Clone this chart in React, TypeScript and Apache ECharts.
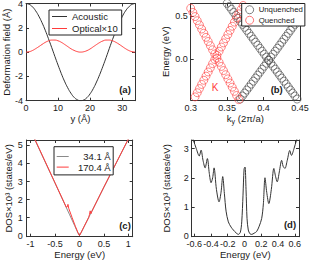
import { useEffect, useRef } from 'react';
import * as echarts from 'echarts';

const FONT = '"Liberation Sans", Arial, sans-serif';
const AX = '#333';
const TXT = '#1a1a1a';

// ---------- panel (a) ----------
const aY = [0, 1, 2, 3, 4, 5, 6, 7, 8, 9, 10, 11, 12, 13, 14, 15, 16, 17, 18, 19, 20, 21, 22, 23, 24, 25, 26, 27, 28, 29, 30, 31, 32, 33, 34];
const acoustic = [4.0, 3.93, 3.73, 3.4, 2.96, 2.42, 1.8, 1.11, 0.39, -0.35, -1.07, -1.76, -2.39, -2.93, -3.38, -3.72, -3.92, -4.0, -3.94, -3.75, -3.43, -3.0, -2.46, -1.84, -1.16, -0.44, 0.31, 1.04, 1.73, 2.36, 2.91, 3.37, 3.7, 3.92, 4.0];
const optical = [0, 0.03, 0.13, 0.28, 0.45, 0.63, 0.8, 0.92, 0.99, 0.99, 0.93, 0.81, 0.64, 0.46, 0.28, 0.14, 0.04, 0, 0.03, 0.12, 0.26, 0.44, 0.62, 0.79, 0.92, 0.99, 0.99, 0.93, 0.81, 0.65, 0.47, 0.29, 0.14, 0.04, 0];

// ---------- panel (b) ----------
const redKy = [0.300, 0.303, 0.306, 0.309, 0.312, 0.315, 0.318, 0.321, 0.324, 0.327, 0.330, 0.333, 0.336, 0.339, 0.342, 0.345, 0.348, 0.351, 0.354, 0.357, 0.360, 0.363, 0.366, 0.369, 0.372];
const redDesc = [0.590, 0.542, 0.494, 0.446, 0.398, 0.350, 0.302, 0.254, 0.206, 0.158, 0.110, 0.062, 0.014, -0.034, -0.082, -0.130, -0.178, -0.226, -0.274, -0.322, -0.370, -0.418, -0.466, -0.514, -0.562];
const redAsc = [-0.530, -0.482, -0.434, -0.386, -0.338, -0.290, -0.242, -0.194, -0.146, -0.098, -0.050, -0.002, 0.046, 0.094, 0.142, 0.190, 0.238, 0.286, 0.334, 0.382, 0.430, 0.478, 0.526, 0.574, 0.622];
const blackKy = [0.350, 0.353, 0.356, 0.359, 0.362, 0.365, 0.368, 0.371, 0.374, 0.377, 0.380, 0.383, 0.386, 0.389, 0.392, 0.395, 0.398, 0.401, 0.404, 0.407, 0.410, 0.413, 0.416, 0.419, 0.422, 0.425, 0.428, 0.431, 0.434, 0.437, 0.440, 0.443, 0.446, 0.449, 0.452];
const blackDesc = [0.646, 0.611, 0.577, 0.542, 0.508, 0.473, 0.439, 0.404, 0.370, 0.335, 0.301, 0.266, 0.232, 0.197, 0.163, 0.128, 0.094, 0.059, 0.025, -0.010, -0.045, -0.079, -0.114, -0.148, -0.183, -0.217, -0.252, -0.286, -0.321, -0.355, -0.390, -0.424, -0.459, -0.493, -0.528];
const blackAsc = [-0.666, -0.631, -0.597, -0.562, -0.528, -0.493, -0.459, -0.424, -0.390, -0.355, -0.321, -0.286, -0.252, -0.217, -0.183, -0.148, -0.114, -0.079, -0.045, -0.010, 0.025, 0.059, 0.094, 0.128, 0.163, 0.197, 0.232, 0.266, 0.301, 0.335, 0.370, 0.404, 0.439, 0.473, 0.508];

// ---------- panel (c) ----------
const cEnergyShort = [-1.0, -0.5, -0.2, -0.1, -0.05, -0.02, 0, 0.02, 0.05, 0.1, 0.2, 0.5, 1.05];
const cDosShort = [5.82, 2.91, 1.16, 0.57, 0.27, 0.1, 0.02, 0.1, 0.26, 0.53, 1.07, 2.68, 5.6];
const cEnergyLong = [-1.0, -0.5, -0.3, -0.27, -0.25, -0.235, -0.22, -0.15, -0.08, -0.03, 0, 0.03, 0.1, 0.19, 0.205, 0.22, 0.235, 0.25, 0.5, 1.05];
const cDosLong = [5.85, 2.93, 1.76, 1.58, 1.6, 1.74, 1.52, 1.0, 0.5, 0.17, 0.02, 0.16, 0.54, 1.02, 1.18, 1.38, 1.22, 1.33, 2.7, 5.62];

// ---------- panel (d) ----------
const dEnergy = [-0.64, -0.61, -0.575, -0.54, -0.518, -0.495, -0.47, -0.443, -0.42, -0.399, -0.38, -0.363, -0.335, -0.304, -0.28, -0.26, -0.24, -0.22, -0.193, -0.16, -0.133, -0.1, -0.074, -0.05, -0.033, -0.018, -0.005, 0.006, 0.018, 0.03, 0.045, 0.065, 0.086, 0.115, 0.145, 0.175, 0.205, 0.225, 0.244, 0.265, 0.29, 0.32, 0.35, 0.37, 0.39, 0.415, 0.443, 0.46, 0.482, 0.51, 0.54, 0.56, 0.59, 0.62, 0.66];
const dDos = [3.5, 3.29, 3.0, 2.75, 2.95, 2.6, 2.34, 2.66, 2.15, 1.83, 2.0, 2.34, 1.6, 1.17, 1.5, 2.04, 1.45, 0.85, 0.48, 0.3, 0.2, 0.1, 0.05, 0.12, 0.48, 1.4, 2.3, 2.37, 1.6, 0.6, 0.2, 0.07, 0.05, 0.09, 0.15, 0.33, 0.6, 1.1, 2.0, 1.5, 1.11, 1.6, 2.32, 2.05, 1.86, 2.2, 2.6, 2.4, 2.32, 2.6, 2.94, 2.77, 3.0, 3.29, 3.6];

const zip = (xs: number[], ys: number[]) => xs.map((x, i) => [x, ys[i]]);

type AxOpts = {
  min: number;
  max: number;
  values?: number[];
  fmt?: (v: number) => string;
  name?: string;
  nameGap?: number;
  rich?: any;
  margin?: number;
};

function axes(kind: 'x' | 'y', gridIndex: number, o: AxOpts) {
  const tick: any = { show: true, inside: true, length: 3, lineStyle: { color: AX, width: 1 } };
  const label: any = {
    show: true,
    margin: o.margin ?? 3,
    fontSize: 9,
    fontFamily: FONT,
    color: TXT,
  };
  if (o.values) {
    tick.customValues = o.values;
    label.customValues = o.values;
  }
  if (o.fmt) label.formatter = o.fmt;
  const base: any = {
    type: 'value',
    gridIndex,
    min: o.min,
    max: o.max,
    splitLine: { show: false },
    axisLine: { show: true, onZero: false, lineStyle: { color: AX, width: 1 } },
  };
  const main = {
    ...base,
    position: kind === 'x' ? 'bottom' : 'left',
    axisTick: tick,
    axisLabel: label,
    name: o.name,
    nameLocation: 'middle',
    nameGap: o.nameGap,
    nameTextStyle: { fontSize: 9.5, fontFamily: FONT, color: TXT, rich: o.rich },
  };
  const mirror = {
    ...base,
    position: kind === 'x' ? 'top' : 'right',
    axisTick: tick,
    axisLabel: { show: false },
  };
  return [main, mirror];
}

const fmt1 = (v: number) => String(+v.toFixed(2));

const grids = [
  { left: 26, top: 3.5, width: 109, height: 97.2 },
  { left: 190.7, top: 3.5, width: 109.3, height: 96.5 },
  { left: 26.7, top: 140, width: 106, height: 96.7 },
  { left: 191.7, top: 140, width: 107.3, height: 96.7 },
];

const xAxes = [
  ...axes('x', 0, { min: 0, max: 34, values: [0, 10, 20, 30], fmt: fmt1, name: 'y (Å)', nameGap: 12 }),
  ...axes('x', 1, {
    min: 0.3, max: 0.45, values: [0.3, 0.35, 0.4, 0.45], fmt: fmt1,
    name: 'k{s|y} (2π/a)', nameGap: 11,
    rich: { s: { fontSize: 7, fontFamily: FONT, color: TXT, verticalAlign: 'bottom', lineHeight: 14 } },
  }),
  ...axes('x', 2, { min: -1.08, max: 1.09, values: [-1, -0.5, 0, 0.5, 1], fmt: fmt1, name: 'Energy (eV)', nameGap: 10 }),
  ...axes('x', 3, { min: -0.63, max: 0.65, values: [-0.6, -0.4, -0.2, 0, 0.2, 0.4, 0.6], fmt: fmt1, name: 'Energy (eV)', nameGap: 11 }),
];

const yAxes = [
  ...axes('y', 0, { min: -4, max: 4, values: [-4, -2, 0, 2, 4], fmt: fmt1, name: 'Deformation field (Å)', nameGap: 13 }),
  ...axes('y', 1, { min: -0.47, max: 0.645, values: [0, 0.5], fmt: (v: number) => v.toFixed(1), name: 'Energy (eV)', nameGap: 20 }),
  ...axes('y', 2, { min: -0.05, max: 5.3, values: [0, 1, 2, 3, 4, 5], fmt: fmt1, name: 'DOS×10³ (states/eV)', nameGap: 12, margin: 4 }),
  ...axes('y', 3, { min: -0.03, max: 3.3, values: [0, 1, 2, 3], fmt: fmt1, name: 'DOS×10³ (states/eV)', nameGap: 20 }),
];

const BLACK = '#333333';
const RED = '#ff3b3b';
const CIRC_BLACK = '#4a4a4a';
const CIRC_RED = '#ff4040';

const ring = (color: string) => ({ color: 'transparent', borderColor: color, borderWidth: 0.8 });

const series: any[] = [
  {
    name: 'Acoustic', type: 'line', xAxisIndex: 0, yAxisIndex: 0, data: zip(aY, acoustic),
    smooth: true, symbol: 'none', lineStyle: { color: BLACK, width: 1 }, itemStyle: { color: BLACK },
  },
  {
    name: 'Optical×10', type: 'line', xAxisIndex: 0, yAxisIndex: 0, data: zip(aY, optical),
    smooth: true, symbol: 'none', lineStyle: { color: RED, width: 1 }, itemStyle: { color: RED },
  },
  {
    name: 'Unquenched', type: 'scatter', xAxisIndex: 2, yAxisIndex: 2, data: zip(blackKy, blackDesc),
    symbol: 'circle', symbolSize: 8, itemStyle: ring(CIRC_BLACK),
  },
  {
    name: 'Unquenched', type: 'scatter', xAxisIndex: 2, yAxisIndex: 2, data: zip(blackKy, blackAsc),
    symbol: 'circle', symbolSize: 8, itemStyle: ring(CIRC_BLACK),
  },
  {
    name: 'Quenched', type: 'scatter', xAxisIndex: 2, yAxisIndex: 2, data: zip(redKy, redDesc),
    symbol: 'circle', symbolSize: 8, itemStyle: ring(CIRC_RED),
  },
  {
    name: 'Quenched', type: 'scatter', xAxisIndex: 2, yAxisIndex: 2, data: zip(redKy, redAsc),
    symbol: 'circle', symbolSize: 8, itemStyle: ring(CIRC_RED),
  },
  {
    name: '34.1 Å', type: 'line', xAxisIndex: 4, yAxisIndex: 4, data: zip(cEnergyShort, cDosShort),
    symbol: 'none', lineStyle: { color: '#8a8a8a', width: 1 }, itemStyle: { color: '#8a8a8a' },
  },
  {
    name: '170.4 Å', type: 'line', xAxisIndex: 4, yAxisIndex: 4, data: zip(cEnergyLong, cDosLong),
    symbol: 'none', lineStyle: { color: RED, width: 1 }, itemStyle: { color: RED },
  },
  {
    name: 'd', type: 'line', xAxisIndex: 6, yAxisIndex: 6, data: zip(dEnergy, dDos),
    smooth: 0.3, symbol: 'none', lineStyle: { color: BLACK, width: 1 }, itemStyle: { color: BLACK },
  },
];

const legendBase = {
  orient: 'vertical',
  selectedMode: false,
  borderColor: '#222',
  borderWidth: 1,
  borderRadius: 0,
  backgroundColor: '#fff',
};

const lineItem = (name: string, color: string) => ({ name, icon: 'rect', itemStyle: { color, borderWidth: 0 } });

const legends = [
  {
    ...legendBase,
    data: [lineItem('Acoustic', BLACK), lineItem('Optical×10', RED)],
    left: 49, top: 10,
    itemWidth: 15, itemHeight: 1, itemGap: 1,
    padding: [1, 4, 1, 3],
    textStyle: { fontSize: 9.5, lineHeight: 11, fontFamily: FONT, color: TXT },
  },
  {
    ...legendBase,
    data: [
      { name: 'Unquenched', icon: 'circle', itemStyle: { color: 'transparent', borderColor: CIRC_BLACK, borderWidth: 0.9 } },
      { name: 'Quenched', icon: 'circle', itemStyle: { color: 'transparent', borderColor: CIRC_RED, borderWidth: 0.9 } },
    ],
    left: 241.7, top: 3.5,
    itemWidth: 8, itemHeight: 8, itemGap: 1,
    padding: [1.5, 2, 1, 3.5],
    textStyle: { fontSize: 7.8, lineHeight: 9.5, fontFamily: FONT, color: TXT },
  },
  {
    ...legendBase,
    data: [lineItem('34.1 Å', '#8a8a8a'), lineItem('170.4 Å', RED)],
    left: 54, top: 146.7,
    itemWidth: 12, itemHeight: 1, itemGap: 0,
    padding: [4.5, 2.5, 2.5, 2.7],
    formatter: (n: string) => '{t|' + n + '}',
    textStyle: {
      fontSize: 9.5, lineHeight: 10.6, fontFamily: FONT, color: TXT,
      rich: { t: { width: 37, align: 'right', fontSize: 9.5, fontFamily: FONT, color: TXT, lineHeight: 10.6 } },
    },
  },
];

const label = (text: string, x: number, y: number, extra: any = {}) => ({
  type: 'text',
  x,
  y,
  z: 100,
  style: {
    text,
    fontSize: 9.5,
    fontWeight: 'bold',
    fontFamily: FONT,
    fill: TXT,
    align: 'center',
    verticalAlign: 'middle',
    ...extra,
  },
});

const option: any = {
  animation: false,
  backgroundColor: '#fff',
  grid: grids.map((g) => ({ ...g, containLabel: false, outerBoundsMode: 'none' })),
  xAxis: xAxes,
  yAxis: yAxes,
  legend: legends,
  series,
  graphic: [
    label('(a)', 125, 89.5),
    label('(b)', 276.7, 89.5),
    label('(c)', 125, 225),
    label('(d)', 290, 224),
    label('K', 215, 87.3, { fontWeight: 'normal', fontSize: 10, fill: RED }),
  ],
};

export default function App() {
  const ref = useRef<HTMLDivElement>(null);
  useEffect(() => {
    const chart = echarts.init(ref.current!, null, { renderer: 'svg' });
    chart.setOption(option);
    return () => chart.dispose();
  }, []);
  return (
    <div
      ref={ref}
      style={{ position: 'absolute', left: 0, top: 0, width: 311, height: 260 }}
    />
  );
}
